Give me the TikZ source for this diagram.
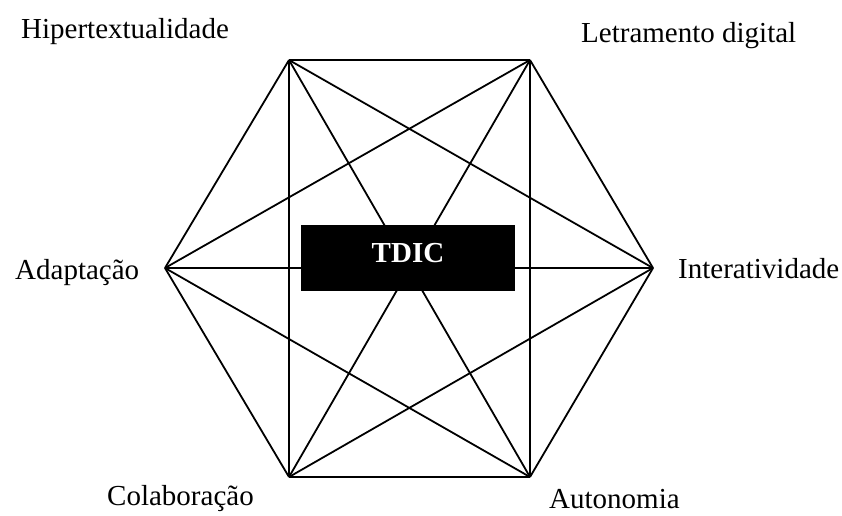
\documentclass[tikz,border=0pt]{standalone}
\usepackage{fontspec}
\setmainfont{Liberation Serif}
\begin{document}
\begin{tikzpicture}[x=1pt,y=-1pt,
  lbl/.style={anchor=base west,inner sep=0pt,font=\fontsize{29}{34}\selectfont},
  edge/.style={line width=1.8pt,line join=miter}]
\useasboundingbox (0,0) rectangle (842,515);
\coordinate (TL) at (289,60);
\coordinate (TR) at (530,60);
\coordinate (R) at (653,268);
\coordinate (BR) at (530,477);
\coordinate (BL) at (289,477);
\coordinate (L) at (165,268);
\foreach \a/\b in {TL/TR,TL/R,TL/BR,TL/BL,TL/L,TR/R,TR/BR,TR/BL,TR/L,R/BR,R/BL,R/L,BR/BL,BR/L,BL/L}
  \draw[edge] (\a) -- (\b);
\node[fill=black,minimum width=214pt,minimum height=66pt,inner sep=0pt] (box) at (408,258) {};
\node[anchor=base,inner sep=0pt,text=white,font=\fontsize{29}{34}\selectfont\bfseries] (tdic) at (408,262) {TDIC};
\node[lbl] (h) at (21,38) {Hipertextualidade};
\node[lbl] (ld) at (581,42) {Letramento digital};
\node[lbl] (ad) at (15,279) {Adaptação};
\node[lbl] (in) at (678,278) {Interatividade};
\node[lbl] (co) at (107,505) {Colaboração};
\node[lbl] (au) at (549,508) {Autonomia};
\end{tikzpicture}
\end{document}
